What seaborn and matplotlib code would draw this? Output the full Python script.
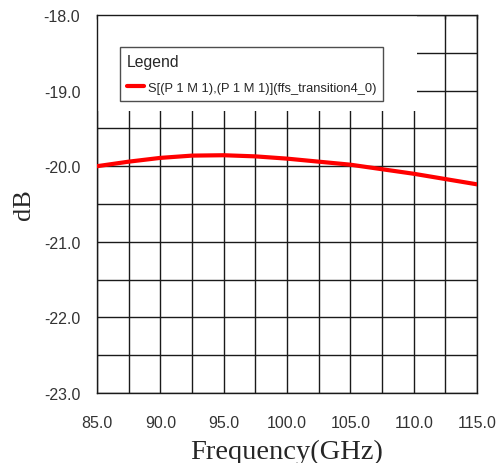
import numpy as np
import pandas as pd
import seaborn as sns
import matplotlib.pyplot as plt
from matplotlib.patches import Rectangle
from matplotlib.ticker import MultipleLocator

# Values
freq_ghz = [85.0, 87.5, 90.0, 92.5, 95.0, 97.5, 100.0, 102.5, 105.0, 107.5, 110.0, 112.5, 115.0]
s11_db = [-20.00, -19.94, -19.89, -19.86, -19.855, -19.87, -19.90, -19.94, -19.98, -20.04, -20.10, -20.17, -20.24]
series_name = "S[(P 1 M 1),(P 1 M 1)](ffs_transition4_0)"

df = pd.DataFrame({"Frequency": freq_ghz, "dB": s11_db, "trace": series_name})

sns.set_style("white")
fig = plt.figure(figsize=(4.99, 4.64), dpi=100)
ax = fig.add_axes([0.1944, 0.1509, 0.7616, 0.8146])

sns.lineplot(data=df, x="Frequency", y="dB", hue="trace", palette=["#ff0000"],
             linewidth=3, ax=ax, zorder=5)

ax.set_xlim(85, 115)
ax.set_ylim(-23, -18)
ax.xaxis.set_major_locator(MultipleLocator(5))
ax.xaxis.set_minor_locator(MultipleLocator(2.5))
ax.yaxis.set_major_locator(MultipleLocator(1))
ax.yaxis.set_minor_locator(MultipleLocator(0.5))
ax.xaxis.set_major_formatter(plt.FormatStrFormatter("%.1f"))
ax.yaxis.set_major_formatter(plt.FormatStrFormatter("%.1f"))

ax.grid(True, which="both", color="#1a1a1a", linewidth=1.0)
ax.set_axisbelow(True)
for sp in ax.spines.values():
    sp.set_color("#1a1a1a")
    sp.set_linewidth(1.0)

ax.tick_params(axis="x", which="major", length=0, pad=16, labelsize=11.5,
               labelcolor="#333333")
ax.tick_params(axis="y", which="major", length=0, pad=12, labelsize=11.5,
               labelcolor="#333333")
ax.tick_params(axis="both", which="minor", length=4, color="#aaaaaa", width=1)
for lab in ax.get_xticklabels() + ax.get_yticklabels():
    lab.set_family("Liberation Sans")

# small inward ticks along the top edge
top = ax.secondary_xaxis("top")
top.xaxis.set_major_locator(MultipleLocator(2.5))
top.tick_params(direction="in", length=3, color="#1a1a1a", width=1, labeltop=False)
top.spines["top"].set_visible(False)

ax.set_xlabel("Frequency(GHz)", family="Liberation Serif", fontsize=20.5, labelpad=6)
ax.set_ylabel("dB", family="Liberation Serif", fontsize=19, labelpad=6)

# blank area behind the legend
ax.add_patch(Rectangle((0.0, 0.746), 0.842, 0.254, transform=ax.transAxes,
                       facecolor="white", edgecolor="none", zorder=2))

leg = ax.legend(title="Legend", loc="upper left", bbox_to_anchor=(0.06, 0.915),
                frameon=True, fancybox=False, title_fontsize=11.3,
                handlelength=1.3, handletextpad=0.3, borderpad=0.55,
                borderaxespad=0, labelspacing=0.95,
                prop={"family": "Liberation Sans", "size": 9.3})
leg._legend_box.align = "left"
leg.get_title().set_family("Liberation Sans")
leg.get_frame().set_edgecolor("#222222")
leg.get_frame().set_linewidth(1.0)
leg.set_zorder(10)

fig.savefig("out.png", dpi=100)
